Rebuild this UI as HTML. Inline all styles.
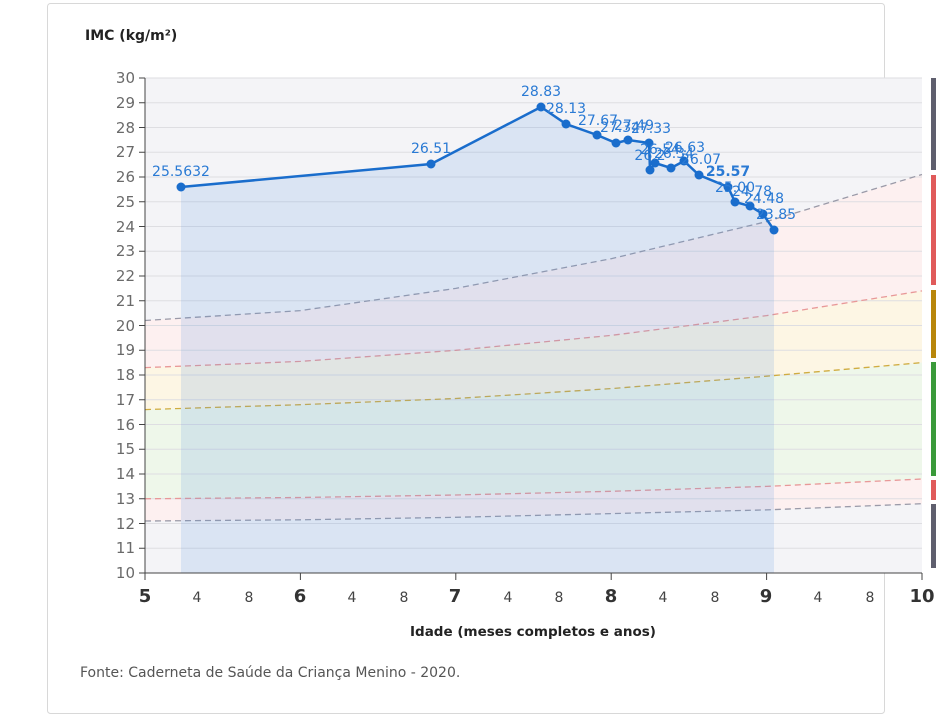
<!DOCTYPE html><html><head><meta charset="utf-8"><style>
body{margin:0;background:#fff;width:942px;height:717px;overflow:hidden;font-family:"DejaVu Sans","Liberation Sans",sans-serif}
svg text{font-family:"DejaVu Sans","Liberation Sans",sans-serif}
</style></head><body>
<svg width="942" height="717" xmlns="http://www.w3.org/2000/svg" style="position:absolute;left:0;top:0">
<rect x="47.5" y="3.5" width="837" height="710" fill="#fff" stroke="#d8d8d8" rx="3"/>
<text x="85" y="40" font-size="14" font-weight="bold" fill="#222">IMC (kg/m²)</text>
<rect x="145" y="78" width="777" height="495" fill="#f4f4f7"/>
<polygon fill="#fdf0f0" points="145,320.5 300.4,310.6 455.8,288.4 611.2,258.7 766.6,221.6 922,174.5 922,290.9 766.6,315.6 611.2,335.4 455.8,350.3 300.4,361.4 145,367.6"/>
<polygon fill="#fdf6e4" points="145,367.6 300.4,361.4 455.8,350.3 611.2,335.4 766.6,315.6 922,290.9 922,362.6 766.6,376.2 611.2,388.6 455.8,398.5 300.4,404.7 145,409.6"/>
<polygon fill="#eef7ea" points="145,409.6 300.4,404.7 455.8,398.5 611.2,388.6 766.6,376.2 922,362.6 922,479 766.6,486.4 611.2,491.3 455.8,495 300.4,497.5 145,498.75"/>
<polygon fill="#fdf0f0" points="145,498.75 300.4,497.5 455.8,495 611.2,491.3 766.6,486.4 922,479 922,503.7 766.6,509.9 611.2,513.6 455.8,517.3 300.4,519.8 145,521"/>
<g stroke="#dedee2" stroke-width="1">
<line x1="145" x2="922" y1="78" y2="78"/><line x1="145" x2="922" y1="102.75" y2="102.75"/><line x1="145" x2="922" y1="127.5" y2="127.5"/><line x1="145" x2="922" y1="152.25" y2="152.25"/><line x1="145" x2="922" y1="177" y2="177"/><line x1="145" x2="922" y1="201.75" y2="201.75"/><line x1="145" x2="922" y1="226.5" y2="226.5"/><line x1="145" x2="922" y1="251.25" y2="251.25"/><line x1="145" x2="922" y1="276" y2="276"/><line x1="145" x2="922" y1="300.75" y2="300.75"/><line x1="145" x2="922" y1="325.5" y2="325.5"/><line x1="145" x2="922" y1="350.25" y2="350.25"/><line x1="145" x2="922" y1="375" y2="375"/><line x1="145" x2="922" y1="399.75" y2="399.75"/><line x1="145" x2="922" y1="424.5" y2="424.5"/><line x1="145" x2="922" y1="449.25" y2="449.25"/><line x1="145" x2="922" y1="474" y2="474"/><line x1="145" x2="922" y1="498.75" y2="498.75"/><line x1="145" x2="922" y1="523.5" y2="523.5"/><line x1="145" x2="922" y1="548.25" y2="548.25"/>
</g>
<g fill="none" stroke-width="1.3" stroke-dasharray="6,4">
<polyline stroke="#9a9aa8" points="145,320.5 300.4,310.6 455.8,288.4 611.2,258.7 766.6,221.6 922,174.5"/>
<polyline stroke="#e89898" points="145,367.6 300.4,361.4 455.8,350.3 611.2,335.4 766.6,315.6 922,290.9"/>
<polyline stroke="#d0ac40" points="145,409.6 300.4,404.7 455.8,398.5 611.2,388.6 766.6,376.2 922,362.6"/>
<polyline stroke="#e89898" points="145,498.75 300.4,497.5 455.8,495 611.2,491.3 766.6,486.4 922,479"/>
<polyline stroke="#9a9aa8" points="145,521 300.4,519.8 455.8,517.3 611.2,513.6 766.6,509.9 922,503.7"/>
</g>
<polygon fill="rgba(90,150,225,0.17)" points="181,187 431,164 541,107 566,124 597,135 616,143 628,140 649,143 650,170 655,163 671,168 684,161 699,175 728,187 735,202 750,206 763,214 774,230 774,573 181,573"/>
<polyline fill="none" stroke="#1a6dcc" stroke-width="2.5" points="181,187 431,164 541,107 566,124 597,135 616,143 628,140 649,143 650,170 655,163 671,168 684,161 699,175 728,187 735,202 750,206 763,214 774,230"/>
<g fill="#1a6dcc">
<circle cx="181" cy="187" r="4.5"/><circle cx="431" cy="164" r="4.5"/><circle cx="541" cy="107" r="4.5"/><circle cx="566" cy="124" r="4.5"/><circle cx="597" cy="135" r="4.5"/><circle cx="616" cy="143" r="4.5"/><circle cx="628" cy="140" r="4.5"/><circle cx="649" cy="143" r="4.5"/><circle cx="650" cy="170" r="4.5"/><circle cx="655" cy="163" r="4.5"/><circle cx="671" cy="168" r="4.5"/><circle cx="684" cy="161" r="4.5"/><circle cx="699" cy="175" r="4.5"/><circle cx="728" cy="187" r="4.5"/><circle cx="735" cy="202" r="4.5"/><circle cx="750" cy="206" r="4.5"/><circle cx="763" cy="214" r="4.5"/><circle cx="774" cy="230" r="4.5"/>
</g>
<g fill="#2a7ad4" font-size="14" text-anchor="middle">
<text x="181" y="176">25.5632</text><text x="431" y="153">26.51</text><text x="541" y="96">28.83</text><text x="566" y="113">28.13</text><text x="598" y="125">27.67</text><text x="620" y="132">27.34</text><text x="634" y="130">27.49</text><text x="651" y="133">27.33</text><text x="650" y="160">26.2</text><text x="660" y="154">26.54</text><text x="674" y="158">26.34</text><text x="685" y="152">26.63</text><text x="701" y="164">26.07</text><text x="728" y="176" font-weight="bold">25.57</text><text x="735" y="192">25.00</text><text x="752" y="196">24.78</text><text x="764" y="203">24.48</text><text x="776" y="219">23.85</text>
</g>
<line x1="145" y1="78" x2="145" y2="573" stroke="#444"/>
<line x1="145" y1="573" x2="922" y2="573" stroke="#444"/>
<g font-size="15" fill="#6a6a6a" text-anchor="end">
<text x="135" y="83">30</text><text x="135" y="108">29</text><text x="135" y="133">28</text><text x="135" y="157">27</text><text x="135" y="182">26</text><text x="135" y="207">25</text><text x="135" y="232">24</text><text x="135" y="256">23</text><text x="135" y="281">22</text><text x="135" y="306">21</text><text x="135" y="331">20</text><text x="135" y="355">19</text><text x="135" y="380">18</text><text x="135" y="405">17</text><text x="135" y="430">16</text><text x="135" y="454">15</text><text x="135" y="479">14</text><text x="135" y="504">13</text><text x="135" y="529">12</text><text x="135" y="553">11</text><text x="135" y="578">10</text>
</g>
<g stroke="#444">
<line x1="139" x2="145" y1="78" y2="78"/><line x1="139" x2="145" y1="102.75" y2="102.75"/><line x1="139" x2="145" y1="127.5" y2="127.5"/><line x1="139" x2="145" y1="152.25" y2="152.25"/><line x1="139" x2="145" y1="177" y2="177"/><line x1="139" x2="145" y1="201.75" y2="201.75"/><line x1="139" x2="145" y1="226.5" y2="226.5"/><line x1="139" x2="145" y1="251.25" y2="251.25"/><line x1="139" x2="145" y1="276" y2="276"/><line x1="139" x2="145" y1="300.75" y2="300.75"/><line x1="139" x2="145" y1="325.5" y2="325.5"/><line x1="139" x2="145" y1="350.25" y2="350.25"/><line x1="139" x2="145" y1="375" y2="375"/><line x1="139" x2="145" y1="399.75" y2="399.75"/><line x1="139" x2="145" y1="424.5" y2="424.5"/><line x1="139" x2="145" y1="449.25" y2="449.25"/><line x1="139" x2="145" y1="474" y2="474"/><line x1="139" x2="145" y1="498.75" y2="498.75"/><line x1="139" x2="145" y1="523.5" y2="523.5"/><line x1="139" x2="145" y1="548.25" y2="548.25"/><line x1="139" x2="145" y1="573" y2="573"/>
<line x1="145" x2="145" y1="573" y2="580"/><line x1="300.4" x2="300.4" y1="573" y2="580"/><line x1="455.8" x2="455.8" y1="573" y2="580"/><line x1="611.2" x2="611.2" y1="573" y2="580"/><line x1="766.6" x2="766.6" y1="573" y2="580"/><line x1="922" x2="922" y1="573" y2="580"/>
</g>
<g font-size="18" font-weight="bold" fill="#333" text-anchor="middle">
<text x="145" y="602">5</text><text x="300" y="602">6</text><text x="455" y="602">7</text><text x="611" y="602">8</text><text x="766" y="602">9</text><text x="922" y="602">10</text>
</g>
<g font-size="14" fill="#444" text-anchor="middle">
<text x="197" y="602">4</text><text x="249" y="602">8</text><text x="352" y="602">4</text><text x="404" y="602">8</text><text x="508" y="602">4</text><text x="559" y="602">8</text><text x="663" y="602">4</text><text x="715" y="602">8</text><text x="818" y="602">4</text><text x="870" y="602">8</text>
</g>
<text x="533" y="636" font-size="13.5" font-weight="bold" fill="#222" text-anchor="middle">Idade (meses completos e anos)</text>
<text x="80" y="677" font-size="14" fill="#555">Fonte: Caderneta de Saúde da Criança Menino - 2020.</text>
<rect x="931" y="78" width="5" height="92" fill="#5f5f6e"/>
<rect x="931" y="175" width="5" height="110" fill="#e05a5a"/>
<rect x="931" y="290" width="5" height="68" fill="#b8860b"/>
<rect x="931" y="362" width="5" height="114" fill="#3a9a3a"/>
<rect x="931" y="480" width="5" height="20" fill="#e05a5a"/>
<rect x="931" y="504" width="5" height="64" fill="#5f5f6e"/>
</svg>
</body></html>
